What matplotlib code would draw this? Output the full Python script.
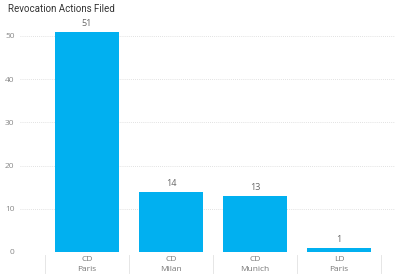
import matplotlib
matplotlib.use("Agg")
import matplotlib.pyplot as plt
from matplotlib.lines import Line2D

categories = ["CD\nParis", "CD\nMilan", "CD\nMunich", "LD\nParis"]
values = [51, 14, 13, 1]
yticks = [0, 10, 20, 30, 40, 50]
title = "Revocation Actions Filed"

plt.rcParams['font.family'] = ['Open Sans', 'DejaVu Sans']

fig = plt.figure(figsize=(4, 2.75), dpi=100)
W, H = 400, 275
ax_left, ax_right, ax_top, ax_bottom = 20, 395, 25, 252
ax = fig.add_axes([ax_left / W, (H - ax_bottom) / H, (ax_right - ax_left) / W, (ax_bottom - ax_top) / H])

pxu = 84.0
x0 = -0.5 - (45 - ax_left) / pxu
x1 = 3.5 + (ax_right - 381) / pxu
ax.set_xlim(x0, x1)
ypx = 4.32
ax.set_ylim(0, (ax_bottom - ax_top) / ypx)

xs = list(range(len(categories)))
bars = ax.bar(xs, values, width=0.76, color="#01b0f0", zorder=3)
for x, v in zip(xs, values):
    ax.text(x, v + 0.8, str(v), ha="center", va="bottom", fontsize=6.5, color="#666666")

for spine in ax.spines.values():
    spine.set_visible(False)
ax.set_yticks(yticks)
ax.set_yticklabels([str(t) for t in yticks], fontsize=6, color="#888888")
ax.tick_params(axis="y", length=0, pad=4)
ax.yaxis.grid(True, linestyle=(0, (1, 1.5)), color="#d8d8d8", linewidth=0.6, zorder=0)
ax.set_xticks(xs)
ax.set_xticklabels(categories, fontsize=6, color="#777777", linespacing=1.5)
ax.tick_params(axis="x", length=0, pad=3)

# category separators below the axis
for b in [-0.5, 0.5, 1.5, 2.5, 3.5]:
    ax.add_line(Line2D([b, b], [-0.6, -4.9], color="#e6e6e6", linewidth=0.7, clip_on=False))

fig.text(8 / W, 1 - 9 / H, title, fontsize=7, color="#333333", va="center", ha="left",
         family=['Roboto', 'DejaVu Sans'])

fig.savefig("out.png", dpi=100)
